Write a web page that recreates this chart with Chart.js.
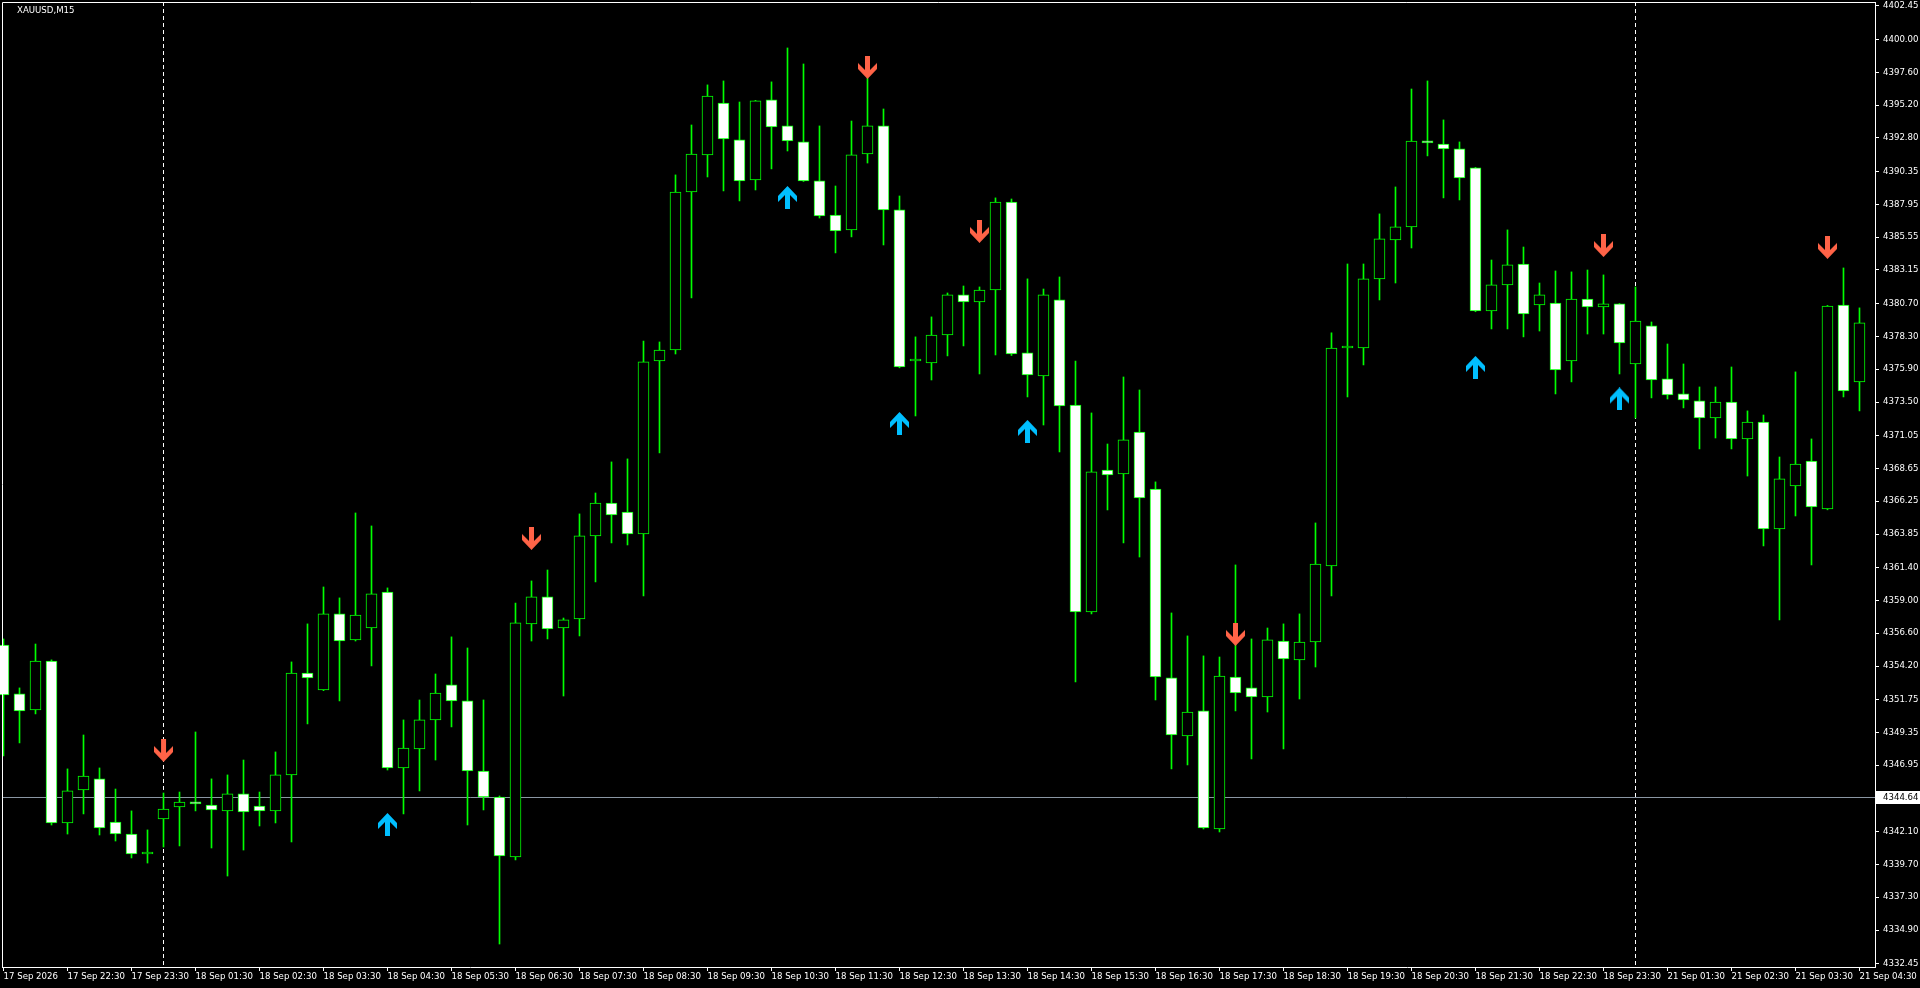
<!DOCTYPE html>
<html>
<head>
<meta charset="utf-8">
<title>XAUUSD,M15</title>
<script src="https://cdn.jsdelivr.net/npm/chart.js@4.4.1/dist/chart.umd.min.js"></script>
<style>
  html, body { margin: 0; padding: 0; background: #000; overflow: hidden; }
  canvas { display: block; }
</style>
</head>
<body>
<canvas id="chart" width="1920" height="988"></canvas>
<script>
const symbolTitle = 'XAUUSD,M15';

const categories = [
  '17 Sep 21:30','17 Sep 21:45','17 Sep 22:00','17 Sep 22:15','17 Sep 22:30','17 Sep 22:45','17 Sep 23:00','17 Sep 23:15','17 Sep 23:30','17 Sep 23:45',
  '18 Sep 01:00','18 Sep 01:15','18 Sep 01:30','18 Sep 01:45','18 Sep 02:00','18 Sep 02:15','18 Sep 02:30','18 Sep 02:45',
  '18 Sep 03:00','18 Sep 03:15','18 Sep 03:30','18 Sep 03:45','18 Sep 04:00','18 Sep 04:15','18 Sep 04:30','18 Sep 04:45',
  '18 Sep 05:00','18 Sep 05:15','18 Sep 05:30','18 Sep 05:45','18 Sep 06:00','18 Sep 06:15','18 Sep 06:30','18 Sep 06:45',
  '18 Sep 07:00','18 Sep 07:15','18 Sep 07:30','18 Sep 07:45','18 Sep 08:00','18 Sep 08:15','18 Sep 08:30','18 Sep 08:45',
  '18 Sep 09:00','18 Sep 09:15','18 Sep 09:30','18 Sep 09:45','18 Sep 10:00','18 Sep 10:15','18 Sep 10:30','18 Sep 10:45',
  '18 Sep 11:00','18 Sep 11:15','18 Sep 11:30','18 Sep 11:45','18 Sep 12:00','18 Sep 12:15','18 Sep 12:30','18 Sep 12:45',
  '18 Sep 13:00','18 Sep 13:15','18 Sep 13:30','18 Sep 13:45','18 Sep 14:00','18 Sep 14:15','18 Sep 14:30','18 Sep 14:45',
  '18 Sep 15:00','18 Sep 15:15','18 Sep 15:30','18 Sep 15:45','18 Sep 16:00','18 Sep 16:15','18 Sep 16:30','18 Sep 16:45',
  '18 Sep 17:00','18 Sep 17:15','18 Sep 17:30','18 Sep 17:45','18 Sep 18:00','18 Sep 18:15','18 Sep 18:30','18 Sep 18:45',
  '18 Sep 19:00','18 Sep 19:15','18 Sep 19:30','18 Sep 19:45','18 Sep 20:00','18 Sep 20:15','18 Sep 20:30','18 Sep 20:45',
  '18 Sep 21:00','18 Sep 21:15','18 Sep 21:30','18 Sep 21:45','18 Sep 22:00','18 Sep 22:15','18 Sep 22:30','18 Sep 22:45',
  '18 Sep 23:00','18 Sep 23:15','18 Sep 23:30','18 Sep 23:45',
  '21 Sep 01:00','21 Sep 01:15','21 Sep 01:30','21 Sep 01:45','21 Sep 02:00','21 Sep 02:15','21 Sep 02:30','21 Sep 02:45',
  '21 Sep 03:00','21 Sep 03:15','21 Sep 03:30','21 Sep 03:45','21 Sep 04:00','21 Sep 04:15','21 Sep 04:30'
];

const opens = [
  4355.74,4352.16,4350.99,4354.57,4342.73,4345.14,4345.95,4342.80,4341.92,4340.46,
  4343.02,4343.90,4344.26,4344.04,4343.61,4344.85,4343.97,4343.61,4346.24,4353.69,
  4352.45,4358.01,4356.11,4356.98,4359.61,4346.75,4348.14,4350.26,4352.82,4351.65,
  4346.53,4344.63,4340.24,4357.28,4359.25,4356.98,4357.64,4363.71,4366.12,4365.46,
  4363.85,4376.50,4377.30,4388.85,4391.56,4395.36,4392.66,4389.73,4395.58,4393.68,
  4392.51,4389.66,4387.17,4386.08,4391.63,4393.68,4387.54,4376.50,4376.35,4378.40,
  4381.33,4380.81,4381.69,4388.12,4377.09,4375.40,4380.96,4373.28,4358.15,4368.53,
  4368.24,4371.31,4367.14,4353.33,4349.09,4350.92,4342.29,4353.40,4352.60,4351.94,
  4356.03,4354.64,4355.96,4361.52,4377.45,4377.45,4382.50,4385.35,4386.30,4392.58,
  4392.36,4392.00,4390.61,4380.16,4382.06,4383.59,4380.59,4380.74,4376.50,4381.03,
  4380.45,4380.67,4376.28,4379.06,4375.19,4374.09,4373.58,4372.33,4373.50,4370.80,
  4372.04,4364.22,4367.36,4369.19,4365.68,4380.59,4374.97
];
const highs = [
  4356.18,4352.60,4355.81,4354.65,4346.68,4349.16,4346.75,4345.21,4343.61,4342.22,
  4344.92,4344.99,4349.38,4345.95,4346.24,4347.33,4344.99,4347.92,4354.50,4357.28,
  4359.98,4359.18,4365.39,4364.44,4359.91,4350.26,4351.72,4353.62,4356.33,4355.52,
  4351.72,4344.70,4358.81,4360.42,4361.22,4357.71,4365.32,4366.85,4369.12,4369.34,
  4377.96,4377.89,4390.10,4393.75,4396.68,4396.97,4395.43,4395.55,4396.90,4399.38,
  4398.21,4393.68,4389.29,4394.04,4397.19,4394.92,4388.56,4378.26,4379.72,4381.47,
  4381.98,4381.91,4388.42,4388.34,4382.50,4381.76,4382.64,4376.50,4372.70,4370.43,
  4375.33,4374.38,4367.66,4358.08,4356.40,4354.94,4354.86,4361.59,4356.18,4356.98,
  4357.28,4358.01,4364.66,4378.55,4383.59,4383.59,4387.25,4389.22,4396.38,4396.97,
  4394.12,4392.51,4390.65,4383.88,4386.08,4384.83,4382.20,4383.08,4383.01,4383.15,
  4382.79,4380.70,4381.91,4379.35,4377.74,4376.28,4374.60,4374.60,4376.06,4372.85,
  4372.55,4369.48,4375.70,4370.80,4380.56,4383.30,4380.38
];
const lows = [
  4347.63,4348.58,4350.70,4342.58,4341.92,4343.39,4341.85,4341.41,4340.17,4339.80,
  4340.97,4341.05,4343.61,4340.90,4338.85,4340.75,4342.51,4342.73,4341.34,4349.97,
  4352.40,4351.65,4356.03,4354.21,4346.60,4343.39,4345.07,4347.33,4349.75,4342.58,
  4343.68,4333.88,4340.02,4356.03,4356.18,4352.01,4356.40,4360.35,4363.20,4363.05,
  4359.32,4369.78,4377.01,4381.11,4389.95,4388.93,4388.20,4389.00,4390.54,4391.85,
  4389.62,4386.95,4384.40,4385.57,4390.97,4384.98,4376.00,4372.48,4375.11,4376.87,
  4377.60,4375.55,4376.94,4376.90,4373.87,4371.82,4369.85,4353.04,4358.01,4365.61,
  4363.20,4362.17,4351.72,4346.68,4346.97,4342.29,4342.07,4350.92,4347.41,4350.84,
  4348.14,4351.79,4354.13,4359.32,4373.87,4376.21,4380.96,4382.20,4384.76,4391.49,
  4388.42,4388.27,4380.10,4378.84,4378.84,4378.26,4378.69,4374.09,4374.97,4378.47,
  4378.47,4375.55,4372.33,4373.80,4373.72,4373.07,4370.07,4370.87,4370.07,4368.09,
  4362.98,4357.57,4365.17,4361.59,4365.62,4373.87,4372.85
];
const closes = [
  4352.09,4350.92,4354.57,4342.73,4345.07,4346.16,4342.36,4341.92,4340.46,4340.57,
  4343.75,4344.26,4344.12,4343.68,4344.85,4343.53,4343.61,4346.24,4353.69,4353.33,
  4358.01,4356.03,4357.93,4359.47,4346.75,4348.21,4350.26,4352.23,4351.65,4346.53,
  4344.63,4340.32,4357.35,4359.25,4356.91,4357.57,4363.71,4366.12,4365.24,4363.85,
  4376.43,4377.30,4388.85,4391.63,4395.87,4392.73,4389.66,4395.51,4393.61,4392.58,
  4389.66,4387.10,4386.00,4391.56,4393.68,4387.54,4376.06,4376.57,4378.40,4381.33,
  4380.81,4381.69,4388.12,4377.01,4375.48,4381.33,4373.21,4358.15,4368.39,4368.17,
  4370.73,4366.49,4353.40,4349.16,4350.84,4342.36,4353.47,4352.23,4351.94,4356.11,
  4354.72,4355.96,4361.66,4377.45,4377.52,4382.50,4385.42,4386.30,4392.58,4392.44,
  4392.00,4389.88,4380.16,4382.06,4383.52,4379.94,4381.33,4375.84,4381.03,4380.45,
  4380.67,4377.82,4379.42,4375.11,4374.02,4373.65,4372.33,4373.50,4370.80,4372.04,
  4364.22,4367.88,4368.97,4365.83,4380.52,4374.31,4379.28
];

// indicator arrows: sell (red, pointing down) and buy (blue, pointing up)
const sellIdx = [10, 33, 54, 61, 77, 100, 114];
const sellPrice = [4348.03, 4363.53, 4397.96, 4385.97, 4356.51, 4384.94, 4384.80];
const buyIdx = [24, 49, 56, 64, 92, 101];
const buyPrice = [4342.62, 4388.45, 4371.93, 4371.35, 4376.03, 4373.72];

const bidPrice = 4344.64;

const yTickLabels = [
  '4402.45','4400.00','4397.60','4395.20','4392.80','4390.35','4387.95','4385.55','4383.15','4380.70',
  '4378.30','4375.90','4373.50','4371.05','4368.65','4366.25','4363.85','4361.40','4359.00','4356.60',
  '4354.20','4351.75','4349.35','4346.95','4342.10','4339.70','4337.30','4334.90','4332.45'
];
const xTickLabels = [
  '17 Sep 2026','17 Sep 22:30','17 Sep 23:30','18 Sep 01:30','18 Sep 02:30','18 Sep 03:30','18 Sep 04:30',
  '18 Sep 05:30','18 Sep 06:30','18 Sep 07:30','18 Sep 08:30','18 Sep 09:30','18 Sep 10:30','18 Sep 11:30',
  '18 Sep 12:30','18 Sep 13:30','18 Sep 14:30','18 Sep 15:30','18 Sep 16:30','18 Sep 17:30','18 Sep 18:30',
  '18 Sep 19:30','18 Sep 20:30','18 Sep 21:30','18 Sep 22:30','18 Sep 23:30','21 Sep 01:30','21 Sep 02:30',
  '21 Sep 03:30','21 Sep 04:30'
];

const FONT = 'DejaVu Sans';
const FONT_SIZE = 8.6;
const GREEN = '#00ff00';

const xTickAt = xTickLabels.map((t, k) => (k === 0 ? 0 : categories.indexOf(t)));
const dayStarts = categories
  .map((c, i) => i)
  .filter(i => i > 0 && categories[i].slice(0, 6) !== categories[i - 1].slice(0, 6));

function arrowImage(color, up) {
  const c = document.createElement('canvas');
  c.width = 19;
  c.height = 23;
  const g = c.getContext('2d');
  const pts = [[7, 0], [12, 0], [12, 14], [19, 7], [19, 13], [9.5, 23], [0, 13], [0, 7], [7, 14]];
  g.fillStyle = color;
  g.beginPath();
  pts.forEach(([px, py], i) => {
    const yy = up ? 23 - py : py;
    if (i === 0) g.moveTo(px, yy);
    else g.lineTo(px, yy);
  });
  g.closePath();
  g.fill();
  return c;
}

const overlay = {
  id: 'mtOverlay',
  beforeDatasetsDraw(chart) {
    const { ctx, chartArea: a, scales: { x, y } } = chart;
    ctx.save();
    const py = Math.round(y.getPixelForValue(bidPrice)) + 0.5;
    ctx.strokeStyle = '#8a96a3';
    ctx.lineWidth = 1;
    ctx.beginPath();
    ctx.moveTo(a.left, py);
    ctx.lineTo(a.right, py);
    ctx.stroke();

    ctx.strokeStyle = '#ffffff';
    ctx.setLineDash([4, 3]);
    dayStarts.forEach(i => {
      const px = Math.floor(x.getPixelForValue(i)) + 0.5;
      ctx.beginPath();
      ctx.moveTo(px, a.top);
      ctx.lineTo(px, a.bottom);
      ctx.stroke();
    });
    ctx.restore();
  },
  afterDraw(chart) {
    const { ctx, chartArea: a, scales: { y } } = chart;
    ctx.save();
    // frame top / left
    ctx.strokeStyle = '#ffffff';
    ctx.lineWidth = 1;
    ctx.beginPath();
    ctx.moveTo(a.left + 0.5, a.bottom);
    ctx.lineTo(a.left + 0.5, a.top + 0.5);
    ctx.lineTo(a.right, a.top + 0.5);
    ctx.stroke();

    ctx.font = FONT_SIZE + 'px "' + FONT + '"';
    ctx.textBaseline = 'middle';
    ctx.fillStyle = '#ffffff';
    ctx.fillText(symbolTitle, 17, 11);

    // current price tag
    const py = Math.round(y.getPixelForValue(bidPrice));
    ctx.fillStyle = '#ffffff';
    ctx.fillRect(a.right + 1, py - 6, chart.width - a.right - 1, 13);
    ctx.fillStyle = '#000000';
    ctx.fillText(bidPrice.toFixed(2), a.right + 8, py + 0.5);
    ctx.restore();
  }
};

const idx = categories.map((c, i) => i);

new Chart(document.getElementById('chart'), {
  type: 'bar',
  data: {
    datasets: [
      {
        label: 'wick',
        data: idx.map(i => ({ x: i, y: [lows[i], highs[i]] })),
        backgroundColor: GREEN,
        borderWidth: 0,
        barThickness: 1,
        grouped: false,
        clip: false,
        order: 3
      },
      {
        label: 'body',
        data: idx.map(i => ({ x: i, y: [opens[i], closes[i]] })),
        backgroundColor: c => (closes[c.dataIndex] >= opens[c.dataIndex] ? '#000000' : '#ffffff'),
        borderColor: GREEN,
        borderWidth: 1,
        borderSkipped: false,
        barThickness: 11,
        minBarLength: 2,
        grouped: false,
        clip: false,
        order: 2
      },
      {
        type: 'scatter',
        label: 'sell',
        data: sellIdx.map((i, k) => ({ x: i, y: sellPrice[k] })),
        pointStyle: arrowImage('#ff6347', false),
        pointRadius: 10,
        clip: false,
        order: 1
      },
      {
        type: 'scatter',
        label: 'buy',
        data: buyIdx.map((i, k) => ({ x: i, y: buyPrice[k] })),
        pointStyle: arrowImage('#00bfff', true),
        pointRadius: 10,
        clip: false,
        order: 1
      }
    ]
  },
  options: {
    responsive: false,
    animation: false,
    devicePixelRatio: 1,
    events: [],
    layout: { autoPadding: false, padding: { left: 2, top: 2, right: 0, bottom: 0 } },
    plugins: { legend: { display: false }, tooltip: { enabled: false } },
    scales: {
      x: {
        type: 'linear',
        position: 'bottom',
        min: -0.094,
        max: 116.97,
        offset: false,
        grid: { offset: false, drawOnChartArea: false, drawTicks: true, tickLength: 4, color: '#ffffff' },
        border: { display: true, color: '#ffffff' },
        ticks: {
          color: '#ffffff',
          font: { family: FONT, size: FONT_SIZE },
          align: 'start',
          maxRotation: 0,
          autoSkip: false,
          padding: 1,
          callback: (v, i) => xTickLabels[i]
        },
        afterBuildTicks: axis => { axis.ticks = xTickAt.map(v => ({ value: v })); },
        afterFit: axis => { axis.height = 21; axis.paddingLeft = 0; axis.paddingRight = 0; }
      },
      y: {
        type: 'linear',
        position: 'right',
        min: 4332.20,
        max: 4402.74,
        beginAtZero: false,
        grid: { drawOnChartArea: false, drawTicks: true, tickLength: 4, color: '#ffffff' },
        border: { display: true, color: '#ffffff' },
        ticks: {
          color: '#ffffff',
          font: { family: FONT, size: FONT_SIZE },
          autoSkip: false,
          padding: 4,
          callback: (v, i) => yTickLabels[i]
        },
        afterBuildTicks: axis => { axis.ticks = yTickLabels.map(t => ({ value: parseFloat(t) })); },
        afterFit: axis => { axis.width = 45; axis.paddingTop = 0; axis.paddingBottom = 0; }
      }
    }
  },
  plugins: [overlay]
});
</script>
</body>
</html>
